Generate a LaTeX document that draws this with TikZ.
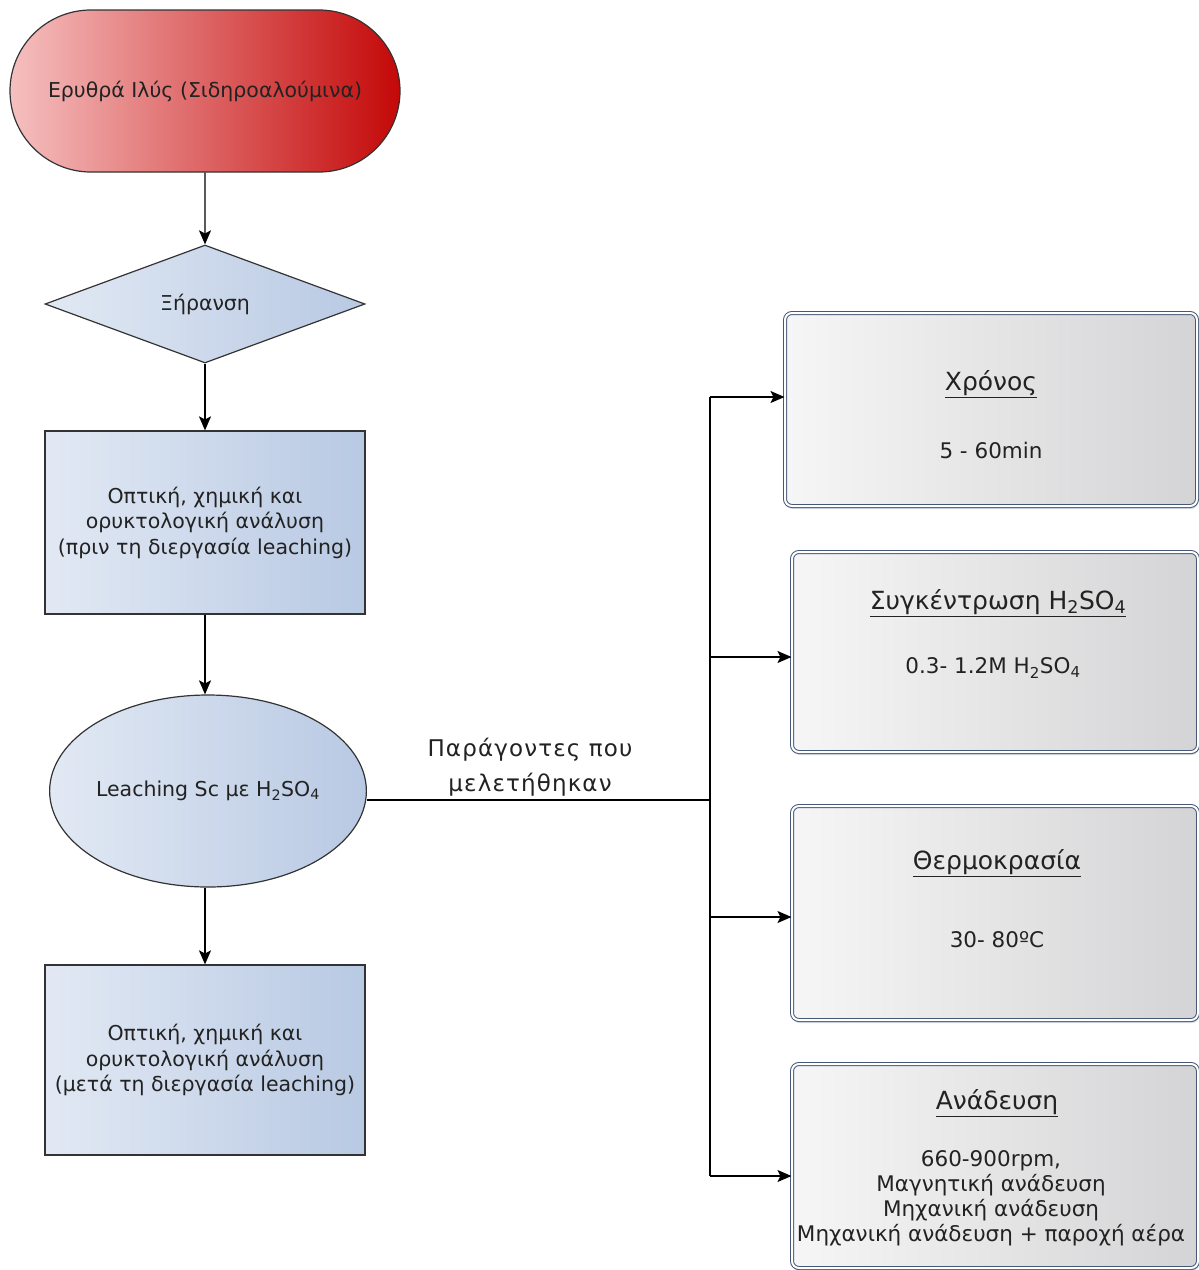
\documentclass[tikz,border=0pt]{standalone}
\usepackage{fontspec}
\setmainfont{DejaVu Sans}
\newfontfamily\spacedfont[LetterSpace=5]{DejaVu Sans}
\usetikzlibrary{shapes.geometric,shapes.misc,arrows.meta,shadows,calc}
\definecolor{redL}{RGB}{246,192,192}
\definecolor{redR}{RGB}{196,8,8}
\definecolor{blueL}{RGB}{226,233,244}
\definecolor{blueR}{RGB}{184,201,227}
\definecolor{grayL}{RGB}{246,246,246}
\definecolor{grayR}{RGB}{212,212,214}
\definecolor{pborder}{RGB}{70,88,120}
\definecolor{txt}{RGB}{34,34,34}
\begin{document}
\begin{tikzpicture}[x=1pt,y=-1pt,
  flow/.style={draw=black!80, line width=1.2pt, text=txt, align=center,
    font=\fontsize{20.5}{25.5}\selectfont, inner sep=0pt},
  bluefill/.style={left color=blueL, right color=blueR},
  arr/.style={-{Stealth[length=14pt,width=12pt,inset=3pt]}, line width=1.3pt},
  line/.style={line width=1.3pt},
  param/.style={rectangle, rounded corners=7pt, draw=pborder, double=white,
    double distance=2pt, line width=1pt, left color=grayL, right color=grayR,
    inner sep=0pt,
    drop shadow={shadow xshift=1pt, shadow yshift=-3pt, fill=pborder!40, opacity=0.5}},
  ptitle/.style={text=txt, font=\fontsize{25}{30}\selectfont, align=center},
  pval/.style={text=txt, font=\fontsize{21.5}{25}\selectfont, align=center}
]
\useasboundingbox (0,0) rectangle (1199,1270);

% left column
\node[flow, rounded rectangle, left color=redL, right color=redR,
  minimum width=390pt, minimum height=162pt] (start) at (205,91)
  {Ερυθρά Ιλύς (Σιδηροαλούμινα)};
\node[flow, diamond, bluefill, aspect=2.7, minimum width=320pt, minimum height=118pt]
  (dry) at (205,304) {Ξήρανση};
\node[flow, rectangle, bluefill, minimum width=320pt, minimum height=183pt]
  (an1) at (205,522.5) {Οπτική, χημική και\\ορυκτολογική ανάλυση\\(πριν τη διεργασία leaching)};
\node[flow, ellipse, bluefill, minimum width=313pt, minimum height=192pt]
  (leach) at (208,791) {Leaching Sc με H\textsubscript{2}SO\textsubscript{4}};
\node[flow, rectangle, bluefill, minimum width=320pt, minimum height=190pt]
  (an2) at (205,1060) {Οπτική, χημική και\\ορυκτολογική ανάλυση\\(μετά τη διεργασία leaching)};

\draw[arr] (start) -- (dry);
\draw[arr] (dry) -- (an1);
\draw[arr] (an1.south) -- (an1.south |- leach.north);
\draw[arr] (leach.south -| an2.north) -- (an2.north);

% right column
\node[param, minimum width=412pt, minimum height=193pt] (pA) at (991,409.5) {};
\node[param, minimum width=406pt, minimum height=200pt] (pB) at (995,652) {};
\node[param, minimum width=406pt, minimum height=214pt] (pC) at (995,913) {};
\node[param, minimum width=406pt, minimum height=204pt] (pD) at (995,1166) {};

\node[ptitle] (tA) at (991,384) {\underline{Χρόνος}};
\node[pval] (vA) at (991,450) {5 - 60min};
\node[ptitle] (tB) at (998,603) {\underline{Συγκέντρωση H\textsubscript{2}SO\textsubscript{4}}};
\node[pval] (vB) at (993,668) {0.3- 1.2M H\textsubscript{2}SO\textsubscript{4}};
\node[ptitle] (tC) at (997,863) {\underline{Θερμοκρασία}};
\node[pval] (vC) at (997,940) {30- 80ºC};
\node[ptitle] (tD) at (997,1103) {\underline{Ανάδευση}};
\node[pval] (vD) at (991,1198)
  {660-900rpm,\\Μαγνητική ανάδευση\\Μηχανική ανάδευση\\Μηχανική ανάδευση + παροχή αέρα};

% branch connectors
\coordinate (j) at (710,800);
\coordinate (b1) at (710,397);
\coordinate (b2) at (710,657);
\coordinate (b3) at (710,917);
\coordinate (b4) at (710,1176);
\draw[line] (j -| leach.east) -- (j);
\draw[line] (b1) -- (b4);
\draw[arr] (b1) -- (b1 -| pA.west);
\draw[arr] (b2) -- (b2 -| pB.west);
\draw[arr] (b3) -- (b3 -| pC.west);
\draw[arr] (b4) -- (b4 -| pD.west);

\node[text=txt, align=center, font=\spacedfont\fontsize{23}{35}\selectfont]
  (lbl) at (530,767) {Παράγοντες που\\μελετήθηκαν};
\end{tikzpicture}
\end{document}
